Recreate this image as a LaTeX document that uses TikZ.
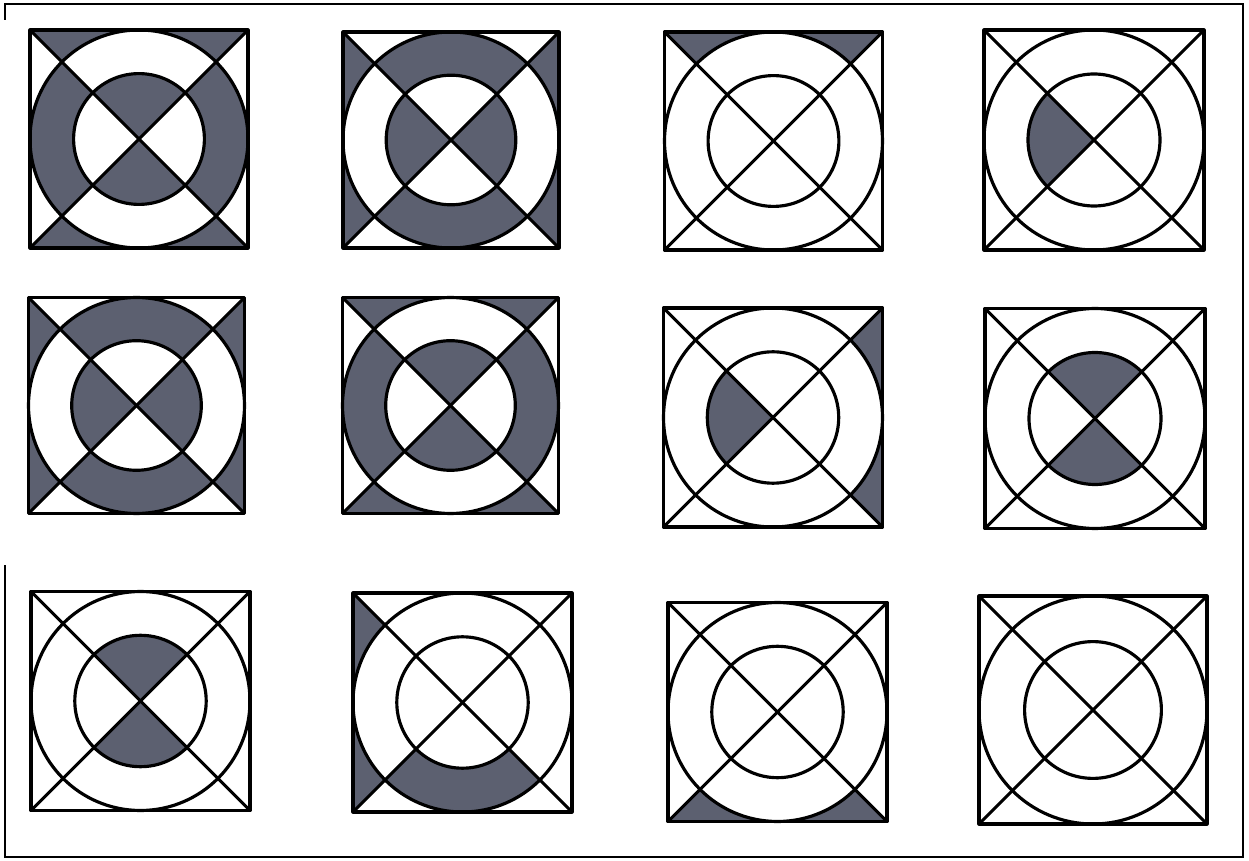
\documentclass[tikz,border=0pt]{standalone}
\usepackage{tikz}

\definecolor{shade}{RGB}{92,96,112}

\tikzset{
  tileline/.style={line width=1.8pt, line join=round},
  frameline/.style={line width=1.4pt},
  shaded/.style={fill=shade},
}

% shaded parts of a tile, #1 = direction of the side (0, 90, 180, 270)
\newcommand{\cornerpart}[1]{\fill[shaded] (#1+45:1.41421) -- (#1+45:1) arc (#1+45:#1-45:1) -- (#1-45:1.41421) -- cycle;}
\newcommand{\ringpart}[1]{\fill[shaded] (#1+45:0.6) arc (#1+45:#1-45:0.6) -- (#1-45:1) arc (#1-45:#1+45:1) -- cycle;}
\newcommand{\innerpart}[1]{\fill[shaded] (0,0) -- (#1+45:0.6) arc (#1+45:#1-45:0.6) -- cycle;}

% one tile: centre x, centre y, half side, shaded parts
\newcommand{\tile}[4]{%
  \begin{scope}[shift={(#1,#2)}, scale=#3]
    #4
    \draw[tileline] (-1,-1) rectangle (1,1);
    \draw[tileline] (0,0) circle (1);
    \draw[tileline] (0,0) circle (0.6);
    \draw[tileline] (-1,-1) -- (1,1);
    \draw[tileline] (-1,1) -- (1,-1);
  \end{scope}}

\begin{document}
\begin{tikzpicture}[x=0.02cm, y=0.02cm]
    \fill[white] (0,0) rectangle (1249,860);
    \useasboundingbox (0,0) rectangle (1249,860);

    % Outer frame (left side broken)
    \draw[frameline] (5,840) -- (5,856) -- (1243,856) -- (1243,3) -- (5,3) -- (5,295);

    % Top row
    \tile{139}{721}{109}{\cornerpart{90}\cornerpart{270}\ringpart{0}\ringpart{180}\innerpart{90}\innerpart{270}}
    \tile{451}{720}{108}{\cornerpart{0}\cornerpart{180}\ringpart{90}\ringpart{270}\innerpart{0}\innerpart{180}}
    \tile{773.5}{719}{109}{\cornerpart{90}}
    \tile{1094}{720}{110}{\innerpart{180}}

    % Middle row
    \tile{136.5}{454.5}{108}{\cornerpart{0}\cornerpart{180}\ringpart{90}\ringpart{270}\innerpart{0}\innerpart{180}}
    \tile{450.5}{454.5}{108}{\cornerpart{90}\cornerpart{270}\ringpart{0}\ringpart{180}\innerpart{90}\innerpart{270}}
    \tile{773}{442.5}{109.5}{\cornerpart{0}\innerpart{180}}
    \tile{1095}{441.5}{110}{\innerpart{90}\innerpart{270}}

    % Bottom row
    \tile{140.5}{159}{109.5}{\innerpart{90}\innerpart{270}}
    \tile{462.5}{157.5}{109.5}{\cornerpart{180}\ringpart{270}}
    \tile{777.5}{148}{109.5}{\cornerpart{270}}
    \tile{1093}{150}{114}{}
\end{tikzpicture}
\end{document}
